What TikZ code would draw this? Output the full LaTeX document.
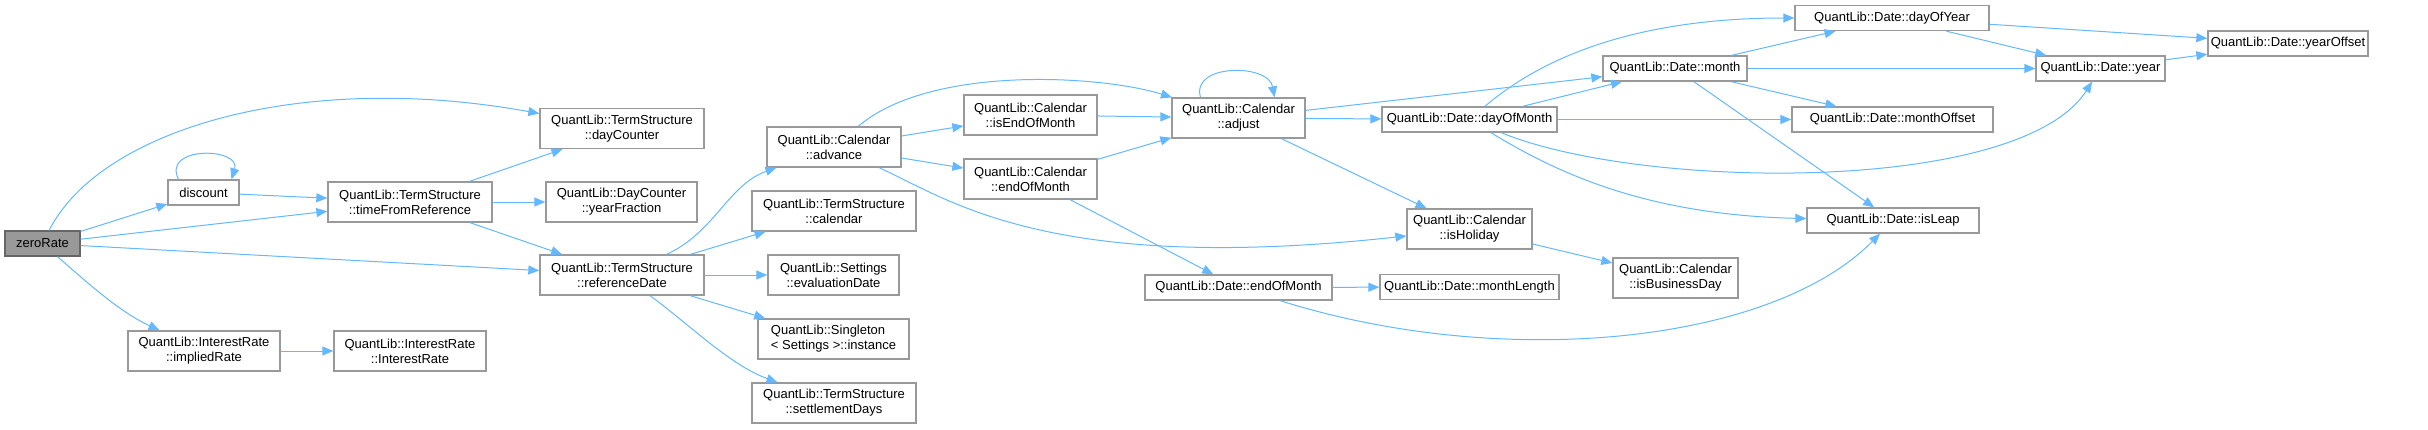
\documentclass[tikz,border=0pt]{standalone}
\usepackage{fontspec}
\setmainfont{Liberation Sans}
\usepackage{tikz}
\usepackage{xcolor}
\usetikzlibrary{arrows.meta}

\definecolor{callblue}{HTML}{63B8FF}
\definecolor{boxgray}{HTML}{999999}
\definecolor{rootgray}{HTML}{666666}

\begin{document}
\begin{tikzpicture}[x=1pt, y=-1pt,
    box/.style={rectangle, draw=boxgray, line width=1.3pt, fill=white, align=center, inner sep=0pt, minimum height=40pt, font=\fontsize{13}{15}\selectfont},
    onebox/.style={box, minimum height=25pt},
    call/.style={draw=callblue, line width=1pt, -{Triangle[length=11pt,width=9pt]}, fill=none}]

    \useasboundingbox (0,0) rectangle (2428,429);

    % Root
    \node[onebox, fill=boxgray, draw=rootgray, minimum width=75pt] (zeroRate) at (42.5,243.5) {zeroRate};

    % First level
    \node[onebox, minimum width=71pt] (discount) at (203.5,192.5) {discount};
    \node[box, minimum width=164pt] (timeFromRef) at (410,202) {QuantLib::TermStructure\\::timeFromReference};
    \node[box, minimum width=152pt] (impliedRate) at (204,351) {QuantLib::InterestRate\\::impliedRate};
    \node[box, minimum width=152pt] (interestRate) at (410,351) {QuantLib::InterestRate\\::InterestRate};

    % Term structure
    \node[box, minimum width=164pt] (dayCounter) at (622,128.5) {QuantLib::TermStructure\\::dayCounter};
    \node[box, minimum width=151pt] (yearFraction) at (621.5,202) {QuantLib::DayCounter\\::yearFraction};
    \node[box, minimum width=164pt] (refDate) at (622,275) {QuantLib::TermStructure\\::referenceDate};

    % Calendar and settings
    \node[box, minimum width=134pt] (advance) at (834,147) {QuantLib::Calendar\\::advance};
    \node[box, minimum width=164pt] (calendar) at (834,211) {QuantLib::TermStructure\\::calendar};
    \node[box, minimum width=131pt] (evalDate) at (833.5,275) {QuantLib::Settings\\::evaluationDate};
    \node[box, minimum width=151pt, align=left] (instance) at (833.5,339) {QuantLib::Singleton\\< Settings >::instance};
    \node[box, minimum width=164pt] (settleDays) at (834,403) {QuantLib::TermStructure\\::settlementDays};

    \node[box, minimum width=133pt] (isEndOfMonth) at (1030.5,115) {QuantLib::Calendar\\::isEndOfMonth};
    \node[box, minimum width=133pt] (calEndOfMonth) at (1030.5,179) {QuantLib::Calendar\\::endOfMonth};
    \node[box, minimum width=133pt] (adjust) at (1238.5,118) {QuantLib::Calendar\\::adjust};
    \node[onebox, minimum width=187pt] (dateEndOfMonth) at (1238.5,287.5) {QuantLib::Date::endOfMonth};

    % Date
    \node[onebox, minimum width=175pt] (dayOfMonth) at (1469.5,119.5) {QuantLib::Date::dayOfMonth};
    \node[box, minimum width=125pt] (isHoliday) at (1469.5,229) {QuantLib::Calendar\\::isHoliday};
    \node[onebox, minimum width=179pt] (monthLength) at (1469.5,287) {QuantLib::Date::monthLength};
    \node[onebox, minimum width=144pt] (month) at (1675,68.5) {QuantLib::Date::month};
    \node[box, minimum width=125pt] (isBusinessDay) at (1675.5,278) {QuantLib::Calendar\\::isBusinessDay};
    \node[onebox, minimum width=194pt] (dayOfYear) at (1892,18) {QuantLib::Date::dayOfYear};
    \node[onebox, minimum width=201pt] (monthOffset) at (1892.5,119.5) {QuantLib::Date::monthOffset};
    \node[onebox, minimum width=172pt] (isLeap) at (1893,220.5) {QuantLib::Date::isLeap};
    \node[onebox, minimum width=129pt] (year) at (2100.5,68.5) {QuantLib::Date::year};
    \node[onebox, minimum width=160pt] (yearOffset) at (2288,43.5) {QuantLib::Date::yearOffset};

    % Calls from zeroRate
    \draw[call] (zeroRate) .. controls (100,130) and (300,70) .. (dayCounter);
    \draw[call] (zeroRate) -- (discount);
    \draw[call] (zeroRate) -- (timeFromRef);
    \draw[call] (zeroRate) -- (refDate);
    \draw[call] (zeroRate) .. controls (90,285) and (120,312) .. (impliedRate);
    \draw[call] ([xshift=-25pt]discount.north) .. controls ([xshift=-42pt,yshift=34pt]discount.north) and ([xshift=38pt,yshift=32pt]discount.north) .. ([xshift=28pt]discount.north);
    \draw[call] (discount) -- (timeFromRef);
    \draw[call] (impliedRate) -- (interestRate);

    % Term structure calls
    \draw[call] (timeFromRef) -- (dayCounter);
    \draw[call] (timeFromRef) -- (yearFraction);
    \draw[call] (timeFromRef) -- (refDate);
    \draw[call] (refDate) .. controls (715,232) and (728,185) .. (advance);
    \draw[call] (refDate) -- (calendar);
    \draw[call] (refDate) -- (evalDate);
    \draw[call] (refDate) -- (instance);
    \draw[call] (refDate) .. controls (690,325) and (730,365) .. (settleDays);

    % Calendar calls
    \draw[call] (advance) .. controls (930,65) and (1100,75) .. (adjust);
    \draw[call] (advance) -- (isEndOfMonth);
    \draw[call] (advance) -- (calEndOfMonth);
    \draw[call] (advance) .. controls (950,200) and (1050,275) .. (isHoliday);
    \draw[call] (isEndOfMonth) -- (adjust);
    \draw[call] (calEndOfMonth) -- (adjust);
    \draw[call] (calEndOfMonth) -- (dateEndOfMonth);
    \draw[call] ([xshift=-38pt]adjust.north) .. controls ([xshift=-48pt,yshift=34pt]adjust.north) and ([xshift=30pt,yshift=34pt]adjust.north) .. ([xshift=36pt]adjust.north);
    \draw[call] (adjust) -- (month);
    \draw[call] (adjust) -- (dayOfMonth);
    \draw[call] (adjust) -- (isHoliday);
    \draw[call] (isHoliday) -- (isBusinessDay);
    \draw[call] (dateEndOfMonth) -- (monthLength);
    \draw[call] (dateEndOfMonth) .. controls (1500,370) and (1770,345) .. (isLeap);

    % Date calls
    \draw[call] (dayOfMonth) .. controls (1545,55) and (1640,18) .. (dayOfYear);
    \draw[call] (dayOfMonth) -- (month);
    \draw[call] (dayOfMonth) -- (monthOffset);
    \draw[call] (dayOfMonth) .. controls (1640,190) and (2020,195) .. (year);
    \draw[call] (dayOfMonth) .. controls (1560,175) and (1650,215) .. (isLeap);
    \draw[call] (month) -- (dayOfYear);
    \draw[call] (month) -- (year);
    \draw[call] (month) -- (monthOffset);
    \draw[call] (month) -- (isLeap);
    \draw[call] (dayOfYear) -- (year);
    \draw[call] (dayOfYear) -- (yearOffset);
    \draw[call] (year) -- (yearOffset);
\end{tikzpicture}
\end{document}
